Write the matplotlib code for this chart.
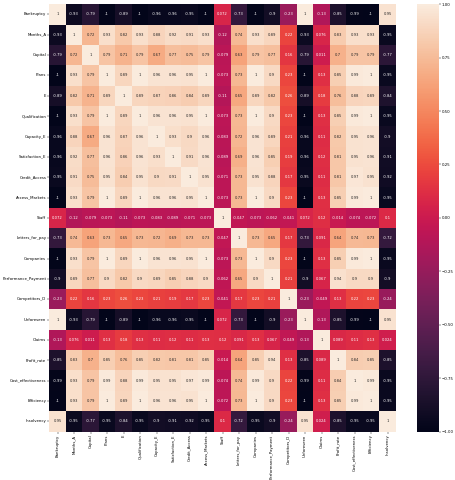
import matplotlib

matplotlib.use("Agg")
import matplotlib.pyplot as plt
import numpy as np
import pandas as pd
import seaborn as sns

labels = [
    "Bankruptcy", "Months_A", "Capital", "Plans", "E", "Qualification", "Capacity_E",
    "Satisfaction_E", "Credit_Access", "Access_Markets", "Staff", "Letters_for_pay",
    "Companies", "Performance_Payment", "Competitors_D", "Unforeseen", "Claims",
    "Profit_rate", "Cost_effectiveness", "Efficiency", "Insolvency",
]

bankruptcy = [1, -0.93, -0.79, -1, -0.89, -1, -0.96, -0.96, -0.95, -1, 0.072, -0.73, -1, -0.9, -0.23, 1, -0.13, -0.85, -0.99, -1, 0.95]
months_a = [-0.93, 1, 0.72, 0.93, 0.82, 0.93, 0.88, 0.92, 0.91, 0.93, -0.12, 0.74, 0.93, 0.89, 0.22, -0.93, 0.076, 0.83, 0.93, 0.93, -0.95]
capital = [-0.79, 0.72, 1, 0.79, 0.71, 0.79, 0.67, 0.77, 0.75, 0.79, -0.079, 0.63, 0.79, 0.77, 0.16, -0.79, 0.011, 0.7, 0.79, 0.79, -0.77]
plans = [-1, 0.93, 0.79, 1, 0.89, 1, 0.96, 0.96, 0.95, 1, -0.073, 0.73, 1, 0.9, 0.23, -1, 0.13, 0.85, 0.99, 1, -0.95]
e = [-0.89, 0.82, 0.71, 0.89, 1, 0.89, 0.87, 0.86, 0.84, 0.89, -0.11, 0.65, 0.89, 0.82, 0.26, -0.89, 0.18, 0.76, 0.88, 0.89, -0.84]
qualification = [-1, 0.93, 0.79, 1, 0.89, 1, 0.96, 0.96, 0.95, 1, -0.073, 0.73, 1, 0.9, 0.23, -1, 0.13, 0.85, 0.99, 1, -0.95]
capacity_e = [-0.96, 0.88, 0.67, 0.96, 0.87, 0.96, 1, 0.93, 0.9, 0.96, -0.083, 0.72, 0.96, 0.89, 0.21, -0.96, 0.11, 0.82, 0.95, 0.96, -0.9]
satisfaction_e = [-0.96, 0.92, 0.77, 0.96, 0.86, 0.96, 0.93, 1, 0.91, 0.96, -0.089, 0.69, 0.96, 0.85, 0.19, -0.96, 0.12, 0.81, 0.95, 0.96, -0.91]
credit_access = [-0.95, 0.91, 0.75, 0.95, 0.84, 0.95, 0.9, 0.91, 1, 0.95, -0.071, 0.73, 0.95, 0.88, 0.17, -0.95, 0.11, 0.81, 0.97, 0.95, -0.92]
access_markets = [-1, 0.93, 0.79, 1, 0.89, 1, 0.96, 0.96, 0.95, 1, -0.073, 0.73, 1, 0.9, 0.23, -1, 0.13, 0.85, 0.99, 1, -0.95]
staff = [0.072, -0.12, -0.079, -0.073, -0.11, -0.073, -0.083, -0.089, -0.071, -0.073, 1, -0.047, -0.073, -0.062, -0.041, 0.072, 0.12, -0.014, -0.074, -0.072, 0.1]
letters_for_pay = [-0.73, 0.74, 0.63, 0.73, 0.65, 0.73, 0.72, 0.69, 0.73, 0.73, -0.047, 1, 0.73, 0.65, 0.17, -0.73, 0.091, 0.64, 0.74, 0.73, -0.72]
companies = [-1, 0.93, 0.79, 1, 0.89, 1, 0.96, 0.96, 0.95, 1, -0.073, 0.73, 1, 0.9, 0.23, -1, 0.13, 0.85, 0.99, 1, -0.95]
performance_payment = [-0.9, 0.89, 0.77, 0.9, 0.82, 0.9, 0.89, 0.85, 0.88, 0.9, -0.062, 0.65, 0.9, 1, 0.21, -0.9, 0.067, 0.94, 0.9, 0.9, -0.9]
competitors_d = [-0.23, 0.22, 0.16, 0.23, 0.26, 0.23, 0.21, 0.19, 0.17, 0.23, -0.041, 0.17, 0.23, 0.21, 1, -0.23, -0.049, 0.13, 0.22, 0.23, -0.24]
unforeseen = [1, -0.93, -0.79, -1, -0.89, -1, -0.96, -0.96, -0.95, -1, 0.072, -0.73, -1, -0.9, -0.23, 1, -0.13, -0.85, -0.99, -1, 0.95]
claims = [-0.13, 0.076, 0.011, 0.13, 0.18, 0.13, 0.11, 0.12, 0.11, 0.13, 0.12, 0.091, 0.13, 0.067, -0.049, -0.13, 1, 0.089, 0.11, 0.13, 0.024]
profit_rate = [-0.85, 0.83, 0.7, 0.85, 0.76, 0.85, 0.82, 0.81, 0.81, 0.85, -0.014, 0.64, 0.85, 0.94, 0.13, -0.85, 0.089, 1, 0.84, 0.85, -0.85]
cost_effectiveness = [-0.99, 0.93, 0.79, 0.99, 0.88, 0.99, 0.95, 0.95, 0.97, 0.99, -0.074, 0.74, 0.99, 0.9, 0.22, -0.99, 0.11, 0.84, 1, 0.99, -0.95]
efficiency = [-1, 0.93, 0.79, 1, 0.89, 1, 0.96, 0.96, 0.95, 1, -0.072, 0.73, 1, 0.9, 0.23, -1, 0.13, 0.85, 0.99, 1, -0.95]
insolvency = [0.95, -0.95, -0.77, -0.95, -0.84, -0.95, -0.9, -0.91, -0.92, -0.95, 0.1, -0.72, -0.95, -0.9, -0.24, 0.95, 0.024, -0.85, -0.95, -0.95, 1]

corr = pd.DataFrame(
    np.array(
        [
            bankruptcy, months_a, capital, plans, e, qualification, capacity_e,
            satisfaction_e, credit_access, access_markets, staff, letters_for_pay,
            companies, performance_payment, competitors_d, unforeseen, claims,
            profit_rate, cost_effectiveness, efficiency, insolvency,
        ]
    ),
    index=labels,
    columns=labels,
)

W, H = 456, 480
FS = 2.8
ANNOT_FS = 2.7

fig = plt.figure(figsize=(W / 100, H / 100), dpi=100)
# 位置はピクセルで合わせる
ax = fig.add_axes([49.3 / W, 1 - 431.5 / H, 346.5 / W, 427.2 / H])
cax = fig.add_axes([417.3 / W, 1 - 431.5 / H, 21.4 / W, 427.2 / H])

sns.heatmap(
    corr,
    vmin=-1,
    vmax=1,
    annot=True,
    annot_kws={"fontsize": ANNOT_FS},
    ax=ax,
    cbar_ax=cax,
    xticklabels=True,
    yticklabels=True,
)
ax.tick_params(labelsize=FS, length=1.2, width=0.3, pad=1)
ax.tick_params(axis="x", labelrotation=90)
ax.tick_params(axis="y", labelrotation=0)
cax.tick_params(labelsize=FS, length=1.2, width=0.3, pad=1)
cax.set_yticks(np.arange(-1, 1.01, 0.25))

fig.savefig("out.png", dpi=100)
